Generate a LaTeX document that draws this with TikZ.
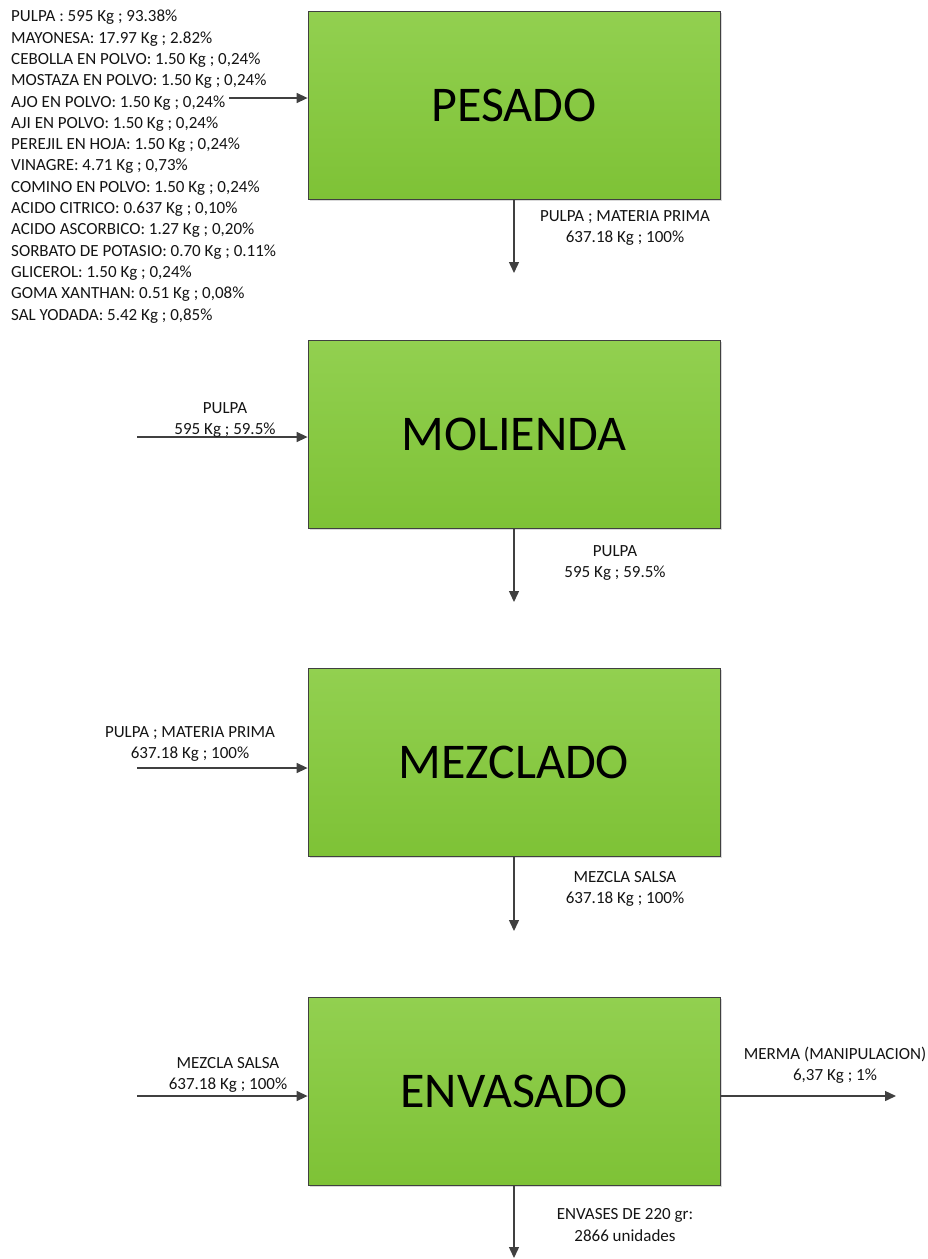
\documentclass[tikz,border=0pt]{standalone}
\usepackage{fontspec}
\setmainfont{Carlito}
\usetikzlibrary{arrows.meta,shadows}
\definecolor{boxtop}{RGB}{146,208,80}
\definecolor{boxbot}{RGB}{126,194,54}
\definecolor{edge}{RGB}{64,64,64}
\definecolor{txt}{RGB}{20,20,20}
\tikzset{
  procbox/.style={draw=edge, line width=0.8pt, top color=boxtop, bottom color=boxbot,
    minimum width=412pt, minimum height=188pt, inner sep=0pt,
    font=\fontsize{50}{60}\selectfont, text=black,
    drop shadow={shadow xshift=2pt, shadow yshift=-2pt, fill=black!25, opacity=0.6}},
  arr/.style={draw=edge, line width=1.4pt, -{Triangle[length=11pt,width=10pt]}},
  lbl/.style={font=\fontsize{17}{21.3}\selectfont, text=txt, align=center, inner sep=0pt},
}
\begin{document}
\begin{tikzpicture}[x=1pt,y=-1pt]
\useasboundingbox (0,0) rectangle (928,1259);
% boxes
\node[procbox] (pesado)   at (514,105)  {PESADO};
\node[procbox] (molienda) at (514,434)  {MOLIENDA};
\node[procbox] (mezclado) at (514,762)  {MEZCLADO};
\node[procbox] (envasado) at (514,1091) {ENVASADO};
% ingredient list
\node[lbl, align=left, anchor=north west] (lista) at (11,10) {%
PULPA : 595 Kg ; 93.38\%\\
MAYONESA: 17.97 Kg ; 2.82\%\\
CEBOLLA EN POLVO: 1.50 Kg ; 0,24\%\\
MOSTAZA EN POLVO: 1.50 Kg ; 0,24\%\\
AJO EN POLVO: 1.50 Kg ; 0,24\%\\
AJI EN POLVO: 1.50 Kg ; 0,24\%\\
PEREJIL EN HOJA: 1.50 Kg ; 0,24\%\\
VINAGRE: 4.71 Kg ; 0,73\%\\
COMINO EN POLVO: 1.50 Kg ; 0,24\%\\
ACIDO CITRICO: 0.637 Kg ; 0,10\%\\
ACIDO ASCORBICO: 1.27 Kg ; 0,20\%\\
SORBATO DE POTASIO: 0.70 Kg ; 0.11\%\\
GLICEROL: 1.50 Kg ; 0,24\%\\
GOMA XANTHAN: 0.51 Kg ; 0,08\%\\
SAL YODADA: 5.42 Kg ; 0,85\%};
% coordinates for free ends
\coordinate (inA) at (229,98);
\coordinate (outA) at (514,273);
\coordinate (inB) at (137,437);
\coordinate (outB) at (514,602);
\coordinate (inC) at (137,768);
\coordinate (outC) at (514,931);
\coordinate (inD) at (137,1096);
\coordinate (outD) at (514,1258);
\coordinate (merma) at (896,1096);
% arrows
\draw[arr] (inA) -- (inA -| pesado.west);
\draw[arr] (pesado.south) -- (outA);
\draw[arr] (inB) -- (inB -| molienda.west);
\draw[arr] (molienda.south) -- (outB);
\draw[arr] (inC) -- (inC -| mezclado.west);
\draw[arr] (mezclado.south) -- (outC);
\draw[arr] (inD) -- (inD -| envasado.west);
\draw[arr] (envasado.south) -- (outD);
\draw[arr] (merma -| envasado.east) -- (merma);
% labels
\node[lbl] (lA) at (625,228) {PULPA ; MATERIA PRIMA\\637.18 Kg ; 100\%};
\node[lbl] (lB1) at (225,420) {PULPA\\595 Kg ; 59.5\%};
\node[lbl] (lB2) at (615,563) {PULPA\\595 Kg ; 59.5\%};
\node[lbl] (lC1) at (190,744) {PULPA ; MATERIA PRIMA\\637.18 Kg ; 100\%};
\node[lbl] (lC2) at (625,889) {MEZCLA SALSA\\637.18 Kg ; 100\%};
\node[lbl] (lD1) at (228,1075) {MEZCLA SALSA\\637.18 Kg ; 100\%};
\node[lbl] (lD2) at (835,1065) {MERMA (MANIPULACION)\\6,37 Kg ; 1\%};
\node[lbl] (lD3) at (625,1225) {ENVASES DE 220 gr:\\2866 unidades};
\end{tikzpicture}
\end{document}
